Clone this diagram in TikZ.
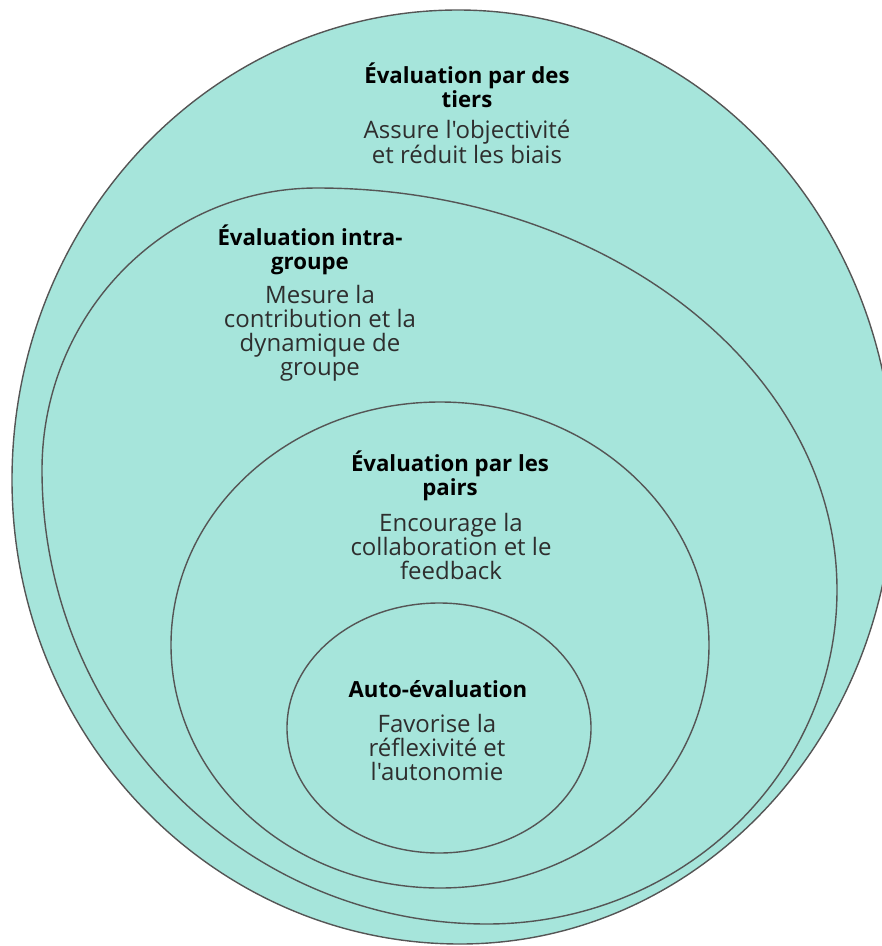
\documentclass[tikz,border=0pt]{standalone}
\usepackage{fontspec}
\setmainfont{Open Sans}[Ligatures=TeXOff]
\definecolor{tealfill}{HTML}{A6E5DB}
\definecolor{edgegray}{HTML}{555555}
\definecolor{textgray}{HTML}{2E2E2E}
\begin{document}
\begin{tikzpicture}[x=1pt,y=-1pt,
  ring/.style={fill=tealfill, draw=edgegray, line width=1.4pt},
  ttl/.style={font=\fontsize{22.2}{24}\selectfont\bfseries, text=black, align=center, inner sep=0pt},
  desc/.style={font=\fontsize{24}{24}\selectfont, text=textgray, align=center, inner sep=0pt}]
\useasboundingbox (0,0) rectangle (882,946);
\begin{scope}
\clip (0,0) rectangle (882,946);
% outer: tiers
\draw[ring] (458,10) .. controls (698.8,10) and (894,219.5) .. (894,478)
  .. controls (894,735.4) and (699.7,944) .. (460,944)
  .. controls (212.6,944) and (12,736.3) .. (12,480)
  .. controls (12,220.4) and (211.7,10) .. (458,10) -- cycle;
% intra-groupe
\draw[ring] (317,188) .. controls (604.2,188) and (837,368) .. (837,590)
  .. controls (837,774.5) and (680.3,924) .. (487,924)
  .. controls (241.2,924) and (42,720.7) .. (42,470)
  .. controls (42,314.3) and (165.1,188) .. (317,188) -- cycle;
% pairs
\draw[ring] (440,645) ellipse [x radius=269pt, y radius=243pt];
% auto
\draw[ring] (439,728) ellipse [x radius=152pt, y radius=125pt];
\end{scope}
\node[ttl]  (t1) at (467,85)  {Évaluation par des\\tiers};
\node[desc] (d1) at (467,142) {Assure l'objectivité\\et réduit les biais};
\node[ttl]  (t2) at (310,250) {Évaluation intra-\\groupe};
\node[desc] (d2) at (320,333) {Mesure la\\contribution et la\\dynamique de\\groupe};
\node[ttl]  (t3) at (450,476) {Évaluation par les\\pairs};
\node[desc] (d3) at (451,546) {Encourage la\\collaboration et le\\feedback};
\node[ttl]  (t4) at (438,689) {Auto-évaluation};
\node[desc] (d4) at (437,747) {Favorise la\\réflexivité et\\l'autonomie};
\end{tikzpicture}
\end{document}
